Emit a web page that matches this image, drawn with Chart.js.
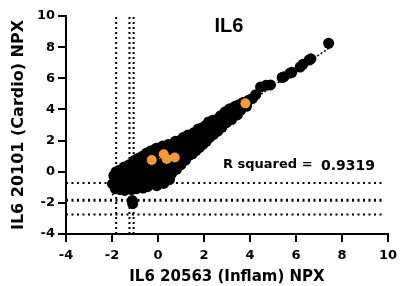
<!DOCTYPE html>
<html>
<head>
<meta charset="utf-8">
<script src="https://cdn.jsdelivr.net/npm/chart.js@4/dist/chart.umd.min.js"></script>
<style>
html,body{margin:0;padding:0;background:#fff;}
#c{display:block;}
</style>
</head>
<body>
<canvas id="c" width="403" height="286"></canvas>
<script>
// ---- data ----
const chartTitle = "IL6";
const xTitle = "IL6 20563 (Inflam) NPX";
const yTitle = "IL6 20101 (Cardio) NPX";
const rLabel = "R squared = ";
const rValue = "0.9319";
const xRange = [-4, 10];
const yRange = [-4, 10];
const tickStep = 2;

// all samples (black)
const samplesX = [-1.98,-1.92,-1.82,-1.85,-1.75,-1.68,-1.65,-1.6,-1.52,-1.48,
 -1.45,-1.4,-1.35,-1.3,-1.25,-1.2,-1.15,-1.12,-1.1,-1.05,-1.05,-1.0,
 -0.95,-0.9,-0.88,-0.82,-0.78,-0.72,-0.68,-0.65,-0.6,-0.55,-0.5,-0.48,
 -0.45,-0.4,-0.35,-0.3,-0.25,-0.2,-0.15,-0.1,-0.08,-0.05,0.0,
 0.05,0.08,0.15,0.2,0.25,0.3,0.35,0.4,0.45,0.48,0.5,
 0.55,0.6,0.65,0.7,0.75,0.8,0.85,0.9,0.95,1.0,1.0,
 1.05,1.1,1.15,1.2,1.25,1.3,1.35,1.4,1.45,1.5,
 1.55,1.6,1.65,1.7,1.75,1.8,1.85,1.9,1.95,2.0,
 2.05,2.1,2.15,2.2,2.25,2.3,2.38,2.42,2.48,
 2.55,2.6,2.65,2.72,2.78,2.85,2.92,2.98,
 3.05,3.12,3.2,3.28,3.35,3.45,3.52,3.6,3.7,3.85,3.95,
 4.1,4.25,4.46,4.7,4.89,5.4,5.48,5.75,5.82,6.18,6.3,6.57,6.65,7.42];
const samplesY = [-0.78,-0.25,0.0,-1.1,-0.55,0.1,-1.15,-0.1,-0.75,0.3,
 -1.2,-0.35,0.2,-0.85,0.45,-0.1,-1.15,-1.85,-2.05,0.7,-0.6,0.3,
 -1.1,-0.2,0.85,0.55,-0.75,0.05,1.0,-1.05,0.6,-0.4,1.2,0.15,
 -0.95,0.8,-0.35,1.35,0.35,-0.75,1.0,-0.15,1.5,-0.9,0.5,
 1.25,-0.45,0.15,1.65,-0.75,0.7,-0.15,1.3,1.75,0.35,-0.5,
 0.95,-0.1,1.55,0.5,1.95,0.15,1.2,0.7,2.0,0.45,1.6,
 0.9,2.2,1.3,0.75,1.85,2.35,1.05,1.55,2.1,1.15,
 2.5,1.75,1.35,2.25,2.75,1.55,2.0,2.8,1.75,2.35,
 2.95,1.95,2.6,3.2,2.2,2.85,3.3,2.4,3.0,
 3.35,2.6,3.05,3.6,2.85,3.35,3.85,3.15,
 3.65,4.05,3.35,3.8,4.2,3.65,4.3,3.95,4.45,4.2,4.6,
 4.7,4.95,5.44,5.55,5.57,6.05,6.1,6.34,6.38,6.72,6.9,7.17,7.25,8.25];

// highlighted samples (orange)
const highlightX = [-0.27,0.25,0.38,0.73,3.8];
const highlightY = [0.75,1.12,0.82,0.91,4.39];

// linear fit (dotted)
const fitX = [-2.0, 7.6];
const fitY = [-1.5, 8.1];

// threshold lines
const vLinesX = [-1.82, -1.24, -1.06];
const hLinesY = [-0.72, -1.83, -2.75];
const hLineXEnd = 9.85;

// ---- build ----
const black = samplesX.map((x,i)=>({x, y: samplesY[i]}));
const orange = highlightX.map((x,i)=>({x, y: highlightY[i]}));
const fit = fitX.map((x,i)=>({x, y: fitY[i]}));

const lineDs = [];
vLinesX.forEach(v=>{
  lineDs.push({data:[{x:v,y:yRange[0]},{x:v,y:yRange[1]}], showLine:true, pointRadius:0,
    borderColor:'#000', borderWidth:2, borderDash:[2,3], order:5});
});
hLinesY.forEach((h,i)=>{
  lineDs.push({data:[{x:xRange[0],y:h},{x:hLineXEnd,y:h}], showLine:true, pointRadius:0,
    borderColor:'#000', borderWidth: i===1 ? 3 : 2, borderDash:[2,3.5], order:5});
});

const annot = {
  id:'annot',
  afterDatasetsDraw(chart){
    const ctx = chart.ctx;
    ctx.save();
    ctx.fillStyle = '#000';
    ctx.textBaseline = 'alphabetic';
    ctx.textAlign = 'center';
    ctx.font = 'bold 20px "Liberation Sans", Arial, sans-serif';
    ctx.fillText(chartTitle, 229, 31.5);
    ctx.textAlign = 'left';
    ctx.font = 'bold 13px "DejaVu Sans", sans-serif';
    ctx.fillText(rLabel, 223, 168);
    ctx.font = 'bold 14px "DejaVu Sans", sans-serif';
    ctx.fillText(rValue, 321, 169.5);
    ctx.restore();
  }
};

const tickFont = {family:'"DejaVu Sans", sans-serif', weight:'bold', size:13};

new Chart(document.getElementById('c'), {
  type:'scatter',
  data:{datasets:[
    {data:orange, backgroundColor:'#F2993A', borderWidth:0, pointRadius:5, order:1},
    {data:black, backgroundColor:'#000', borderWidth:0, pointRadius:5.5, order:2},
    {data:fit, showLine:true, pointRadius:0, borderColor:'#000', borderWidth:1.5, borderDash:[2,2], order:3},
    ...lineDs
  ]},
  options:{
    responsive:false, devicePixelRatio:1, animation:false,
    layout:{padding:{top:16,right:11,bottom:0,left:0}},
    plugins:{legend:{display:false}, tooltip:{enabled:false}},
    scales:{
      x:{type:'linear', min:xRange[0], max:xRange[1],
        ticks:{stepSize:tickStep, color:'#000', font:tickFont, padding:6, maxRotation:0},
        grid:{drawOnChartArea:false, drawTicks:true, tickLength:8, lineWidth:2, color:'#000'},
        border:{display:true, color:'#000', width:2},
        title:{display:true, text:xTitle, color:'#000', font:{family:'"DejaVu Sans", sans-serif', weight:'bold', size:15}, padding:{top:0,bottom:0}},
        afterFit(s){ s.height = 52; }
      },
      y:{type:'linear', min:yRange[0], max:yRange[1],
        ticks:{stepSize:tickStep, color:'#000', font:tickFont, padding:3},
        grid:{drawOnChartArea:false, drawTicks:true, tickLength:8, lineWidth:2, color:'#000'},
        border:{display:true, color:'#000', width:2},
        title:{display:true, text:yTitle, color:'#000', font:{family:'"DejaVu Sans", sans-serif', weight:'bold', size:16}, padding:{top:9.5,bottom:0}},
        afterFit(s){ s.width = 66; }
      }
    }
  },
  plugins:[annot]
});
</script>
</body>
</html>
